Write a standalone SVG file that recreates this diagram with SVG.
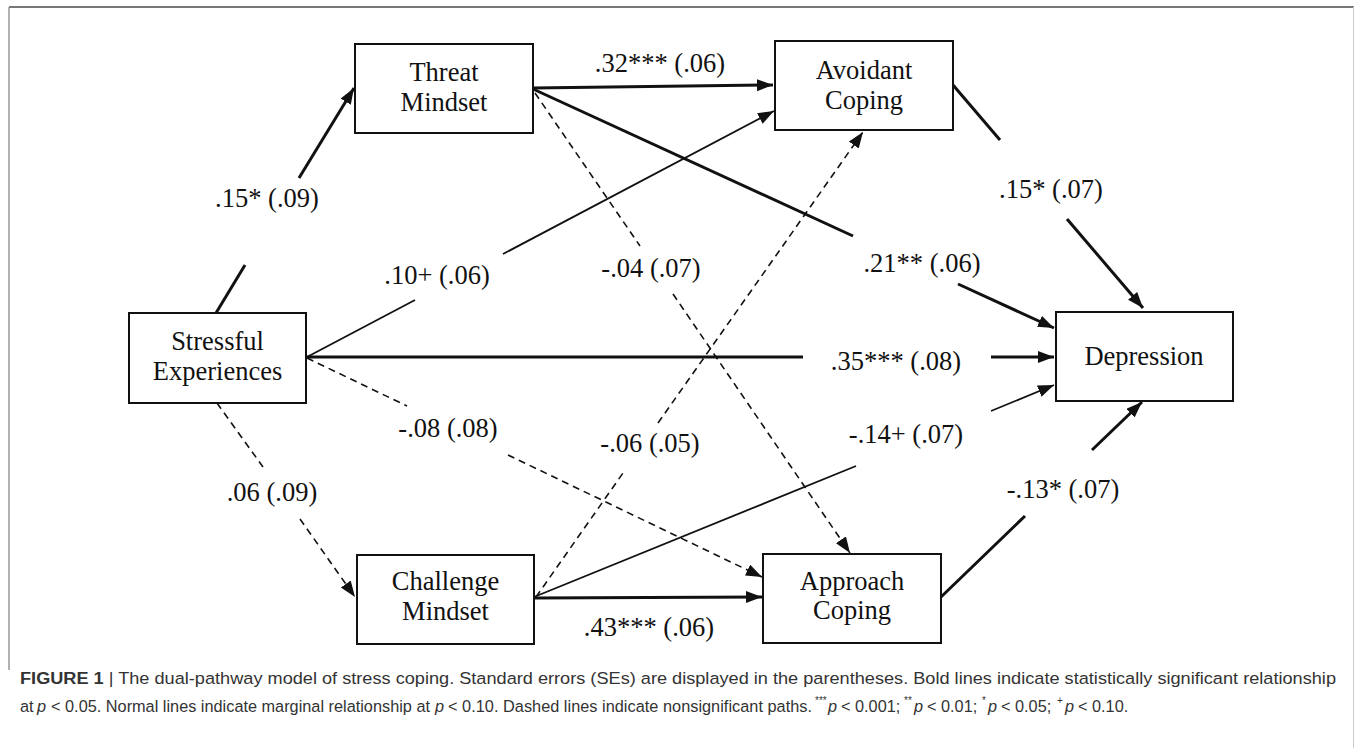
<svg xmlns="http://www.w3.org/2000/svg" width="1355" height="748" viewBox="0 0 1355 748">
<style>
.box{fill:#fff;stroke:#111;stroke-width:2}
.nt{font-family:"Liberation Serif","Times New Roman",serif;font-size:26.5px;fill:#111;text-anchor:middle}
.lb{font-family:"Liberation Serif","Times New Roman",serif;font-size:26.5px;fill:#111;text-anchor:middle}
.bold{stroke:#111;stroke-width:3;fill:none}
.norm{stroke:#111;stroke-width:1.8;fill:none}
.dash{stroke:#111;stroke-width:1.6;fill:none;stroke-dasharray:7 5}
.cap1{font-family:"Liberation Sans",Arial,sans-serif;font-size:16.8px;fill:#333}
.cap{font-family:"Liberation Sans",Arial,sans-serif;font-size:16.3px;fill:#333}
.it{font-family:"Liberation Sans",Arial,sans-serif;font-size:16.3px;font-style:italic;fill:#333}
.sup{font-family:"Liberation Sans",Arial,sans-serif;font-size:10px;fill:#333}
</style>
<defs>
<marker id="ah" markerUnits="userSpaceOnUse" markerWidth="17" markerHeight="13" refX="16" refY="6" orient="auto">
<path d="M0,0 L16,6 L0,12 z" fill="#111"/>
</marker>
</defs>
<rect width="1355" height="748" fill="#fff"/>
<g id="frame">
<line x1="9" y1="7" x2="1354" y2="7" stroke="#777" stroke-width="2"/>
<line x1="9" y1="7" x2="9" y2="670" stroke="#999" stroke-width="1.5"/>
<line x1="1353.5" y1="7" x2="1353.5" y2="748" stroke="#ccc" stroke-width="1"/>
</g>
<g id="connectors">
<line class="bold" x1="216" y1="313" x2="245" y2="265"/>
<line class="bold" x1="299" y1="178" x2="354" y2="88" marker-end="url(#ah)"/>
<line class="bold" x1="533" y1="88" x2="773" y2="85" marker-end="url(#ah)"/>
<line class="bold" x1="533" y1="89" x2="853" y2="236"/>
<line class="bold" x1="958" y1="284" x2="1054" y2="328" marker-end="url(#ah)"/>
<line class="dash" x1="535" y1="93" x2="640" y2="246"/>
<line class="dash" x1="673" y1="294" x2="850" y2="553" marker-end="url(#ah)"/>
<line class="norm" x1="307" y1="357" x2="415" y2="300"/>
<line class="norm" x1="503" y1="254" x2="774" y2="111" marker-end="url(#ah)"/>
<line class="bold" x1="307" y1="357" x2="803" y2="357"/>
<line class="bold" x1="991" y1="357" x2="1054" y2="357" marker-end="url(#ah)"/>
<line class="dash" x1="307" y1="358" x2="407" y2="406"/>
<line class="dash" x1="508" y1="455" x2="762" y2="577" marker-end="url(#ah)"/>
<line class="dash" x1="217" y1="403" x2="263" y2="467"/>
<line class="dash" x1="300" y1="519" x2="355" y2="597" marker-end="url(#ah)"/>
<line class="dash" x1="536" y1="597" x2="623" y2="473"/>
<line class="dash" x1="658" y1="423" x2="863" y2="132" marker-end="url(#ah)"/>
<line class="norm" x1="534" y1="597" x2="856" y2="466"/>
<line class="norm" x1="991" y1="411" x2="1054" y2="385" marker-end="url(#ah)"/>
<line class="bold" x1="534" y1="598" x2="762" y2="597" marker-end="url(#ah)"/>
<line class="bold" x1="953" y1="85" x2="1000" y2="140"/>
<line class="bold" x1="1067" y1="219" x2="1143" y2="308" marker-end="url(#ah)"/>
<line class="bold" x1="941" y1="597" x2="1025" y2="516"/>
<line class="bold" x1="1092" y1="450" x2="1142" y2="402" marker-end="url(#ah)"/>
</g>
<g id="labels">
<text class="lb" x="267" y="207">.15* (.09)</text>
<text class="lb" x="660" y="72">.32*** (.06)</text>
<text class="lb" x="651" y="277">-.04 (.07)</text>
<text class="lb" x="922" y="272">.21** (.06)</text>
<text class="lb" x="1051" y="198">.15* (.07)</text>
<text class="lb" x="437" y="284">.10+ (.06)</text>
<text class="lb" x="896" y="370">.35*** (.08)</text>
<text class="lb" x="448" y="437">-.08 (.08)</text>
<text class="lb" x="650" y="452">-.06 (.05)</text>
<text class="lb" x="906" y="443">-.14+ (.07)</text>
<text class="lb" x="272" y="501">.06 (.09)</text>
<text class="lb" x="1063" y="498">-.13* (.07)</text>
<text class="lb" x="649" y="636">.43*** (.06)</text>
</g>
<g id="threat">
<rect class="box" x="355" y="44" width="178" height="89"/>
<text class="nt" x="444" y="81">Threat</text>
<text class="nt" x="444" y="111">Mindset</text>
</g>
<g id="avoidant">
<rect class="box" x="775" y="41" width="178" height="89"/>
<text class="nt" x="864" y="79">Avoidant</text>
<text class="nt" x="864" y="109">Coping</text>
</g>
<g id="depression">
<rect class="box" x="1056" y="312" width="177" height="89"/>
<text class="nt" x="1144" y="365">Depression</text>
</g>
<g id="stressful">
<rect class="box" x="129" y="313" width="177" height="90"/>
<text class="nt" x="217.5" y="350">Stressful</text>
<text class="nt" x="217.5" y="380">Experiences</text>
</g>
<g id="challenge">
<rect class="box" x="357" y="555" width="177" height="89"/>
<text class="nt" x="445.5" y="590">Challenge</text>
<text class="nt" x="445.5" y="620">Mindset</text>
</g>
<g id="approach">
<rect class="box" x="763" y="554" width="178" height="89"/>
<text class="nt" x="852" y="590">Approach</text>
<text class="nt" x="852" y="619">Coping</text>
</g>
<g id="caption">
<text class="cap1" x="20" y="684" textLength="1316" lengthAdjust="spacingAndGlyphs"><tspan font-weight="bold">FIGURE 1</tspan>  |  The dual-pathway model of stress coping. Standard errors (SEs) are displayed in the parentheses. Bold lines indicate statistically significant relationship</text>
<text class="cap" x="20" y="712">at</text>
<text class="it" x="37" y="712">p</text>
<text class="cap" x="51" y="712" textLength="379" lengthAdjust="spacing">&lt; 0.05. Normal lines indicate marginal relationship at</text>
<text class="it" x="435" y="712">p</text>
<text class="cap" x="448" y="712" textLength="364" lengthAdjust="spacing">&lt; 0.10. Dashed lines indicate nonsignificant paths.</text>
<text class="sup" x="815" y="704">***</text>
<text class="it" x="828" y="712">p</text>
<text class="cap" x="841" y="712">&lt; 0.001;</text>
<text class="sup" x="904" y="704">**</text>
<text class="it" x="914" y="712">p</text>
<text class="cap" x="927" y="712">&lt; 0.01;</text>
<text class="sup" x="982" y="704">*</text>
<text class="it" x="988" y="712">p</text>
<text class="cap" x="1001" y="712">&lt; 0.05;</text>
<text class="sup" x="1057" y="704">+</text>
<text class="it" x="1065" y="712">p</text>
<text class="cap" x="1078" y="712">&lt; 0.10.</text>
</g>
</svg>
